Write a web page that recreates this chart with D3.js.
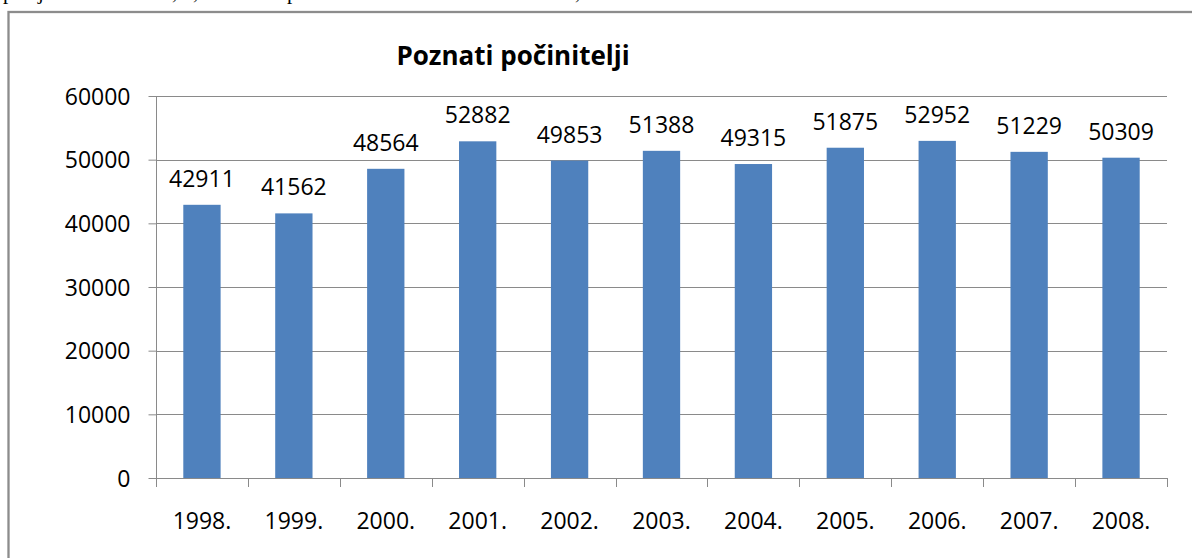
<!DOCTYPE html>
<html>
<head>
<meta charset="utf-8">
<script src="https://cdn.jsdelivr.net/npm/d3@7/dist/d3.min.js"></script>
<style>
  html, body { margin: 0; padding: 0; background: #fff; overflow: hidden; }
  svg { display: block; }
</style>
</head>
<body>
<svg id="chart" width="1192" height="558"></svg>
<script>
const title = "Poznati počinitelji";
const categories = ["1998.", "1999.", "2000.", "2001.", "2002.", "2003.", "2004.", "2005.", "2006.", "2007.", "2008."];
const values = [42911, 41562, 48564, 52882, 49853, 51388, 49315, 51875, 52952, 51229, 50309];
const yTicks = [0, 10000, 20000, 30000, 40000, 50000, 60000];
// descender fragments of the clipped page text above the chart
const topFragments = ["p", "j", ",", ",", "p", ","];
const topFragmentX = [3, 38, 172, 193, 287, 575];

(function () {
const svg = d3.select("#chart");
const font = "'Open Sans', 'Noto Sans', sans-serif";
const gridColor = "#8a8a8a";

// clipped text line at very top
const tt = svg.append("text")
  .attr("y", -1)
  .style("font-family", "'Liberation Serif', 'DejaVu Serif', serif")
  .style("font-size", "21px")
  .attr("fill", "#000");
tt.selectAll("tspan").data(topFragments).join("tspan")
  .attr("x", (d, i) => topFragmentX[i])
  .text(d => d);

// chart frame (extends past right and bottom edges)
svg.append("rect")
  .attr("x", 8.5).attr("y", 12)
  .attr("width", 1300).attr("height", 700)
  .attr("fill", "#fff")
  .attr("stroke", "#8c8c8c")
  .attr("stroke-width", 2.3);

const pLeft = 156, pRight = 1167, pTop = 96, pBottom = 478;

const x = d3.scaleBand().domain(categories).range([pLeft, pRight]).paddingInner(0).paddingOuter(0);
const y = d3.scaleLinear().domain([0, 60000]).range([pBottom, pTop]);
const barW = x.bandwidth() * 0.406;

// gridlines
svg.append("g").selectAll("line").data(yTicks).join("line")
  .attr("x1", pLeft).attr("x2", pRight)
  .attr("y1", d => Math.round(y(d)) + 0.5).attr("y2", d => Math.round(y(d)) + 0.5)
  .attr("stroke", gridColor).attr("stroke-width", 1);

// bars
svg.append("g").selectAll("rect").data(values).join("rect")
  .attr("x", (d, i) => x(categories[i]) + (x.bandwidth() - barW) / 2)
  .attr("y", d => y(d))
  .attr("width", barW)
  .attr("height", d => y(0) - y(d))
  .attr("fill", "#4F81BD");

// data labels
svg.append("g").selectAll("text").data(values).join("text")
  .attr("x", (d, i) => x(categories[i]) + x.bandwidth() / 2)
  .attr("y", d => y(d) - 18)
  .attr("text-anchor", "middle")
  .style("font-family", font)
  .style("font-size", "23px")
  .attr("fill", "#000")
  .text(d => d);

// y axis
const yAxis = svg.append("g")
  .attr("transform", `translate(${pLeft + 0.5},0)`)
  .call(d3.axisLeft(y).tickValues(yTicks).tickSize(8).tickPadding(18).tickFormat(d3.format("d")));
yAxis.select(".domain").attr("stroke", gridColor).attr("d", `M0,${pTop}V${pBottom}`);
yAxis.selectAll(".tick line").attr("stroke", gridColor);
yAxis.selectAll(".tick text")
  .style("font-family", font).style("font-size", "23px").attr("fill", "#000").attr("dy", "0.36em");

// x axis: labels
const xAxis = svg.append("g")
  .attr("transform", `translate(0,${pBottom + 0.5})`)
  .call(d3.axisBottom(x).tickSize(0).tickSizeOuter(0));
xAxis.select(".domain").remove();
xAxis.selectAll(".tick text")
  .attr("y", 50).attr("dy", 0)
  .style("font-family", font).style("font-size", "23px").attr("fill", "#000");

// x axis line and boundary tick marks
const bounds = categories.map(c => x(c)).concat([pRight]);
svg.append("line")
  .attr("x1", pLeft).attr("x2", pRight)
  .attr("y1", pBottom + 0.5).attr("y2", pBottom + 0.5)
  .attr("stroke", gridColor);
svg.append("g").selectAll("line").data(bounds).join("line")
  .attr("x1", d => Math.round(d) + 0.5).attr("x2", d => Math.round(d) + 0.5)
  .attr("y1", pBottom).attr("y2", pBottom + 9)
  .attr("stroke", gridColor);

// title
svg.append("text")
  .attr("x", 513).attr("y", 65)
  .attr("text-anchor", "middle")
  .style("font-family", font)
  .style("font-size", "26px")
  .style("font-weight", "bold")
  .attr("fill", "#000")
  .text(title);
})();
</script>
</body>
</html>
